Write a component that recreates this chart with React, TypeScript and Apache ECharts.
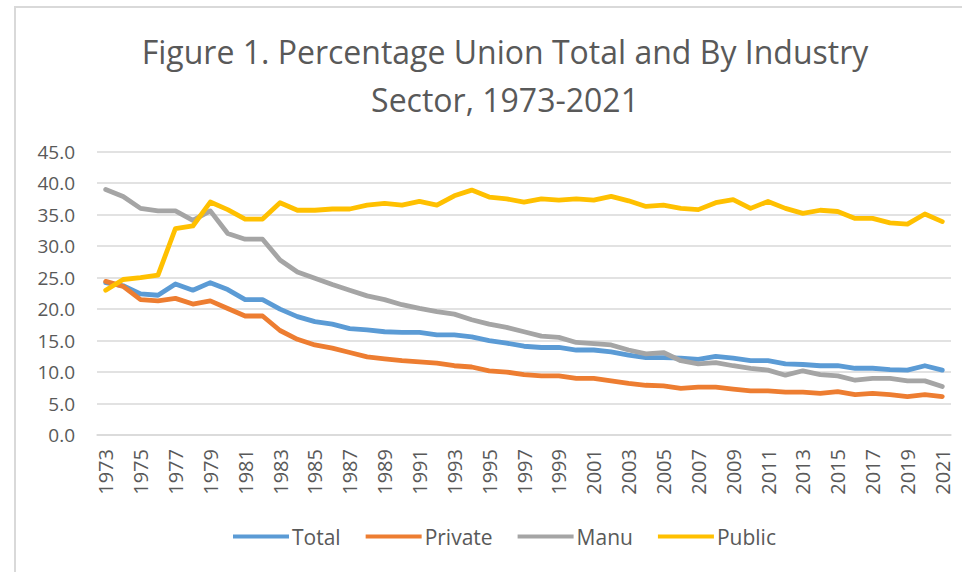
import React, { useEffect, useRef } from "react";
import * as echarts from "echarts";

const years: string[] = [];
for (let y = 1973; y <= 2021; y++) years.push(String(y));

const total = [24.2, 23.7, 22.4, 22.2, 24.0, 23.0, 24.2, 23.1, 21.5, 21.5, 20.0, 18.8, 18.0,
  17.6, 16.9, 16.7, 16.4, 16.3, 16.3, 15.9, 15.9, 15.6, 15.0,
  14.6,
  14.1, 13.9, 13.9, 13.5, 13.5, 13.2, 12.7, 12.3, 12.3, 12.2, 12.0, 12.5,
  12.2, 11.8, 11.8, 11.3, 11.2, 11.0, 11.0, 10.6, 10.6, 10.4, 10.3, 11.0, 10.3];

const privateSector = [24.4, 23.6, 21.5, 21.3, 21.7, 20.8, 21.3, 20.1, 18.9, 18.9, 16.6, 15.2, 14.3,
  13.8, 13.1, 12.4, 12.1, 11.8, 11.6, 11.4, 11.0, 10.8, 10.2,
  10.0,
  9.6, 9.4, 9.4, 9.0, 9.0, 8.6, 8.2, 7.9, 7.8, 7.4, 7.6, 7.6,
  7.3, 7.0, 7.0, 6.8, 6.8, 6.6, 6.9, 6.4, 6.6, 6.4, 6.1, 6.4, 6.1];

const manu = [39.0, 37.9, 36.0, 35.6, 35.6, 34.1, 35.6, 32.0, 31.1, 31.1, 27.8, 25.9, 24.9,
  23.9, 23.0, 22.1, 21.5, 20.7, 20.1, 19.6, 19.2, 18.3, 17.6,
  17.1,
  16.4, 15.7, 15.5, 14.7, 14.5, 14.3, 13.5, 12.9, 13.1, 11.8, 11.3, 11.5,
  11.0, 10.6, 10.3, 9.5, 10.2, 9.6, 9.4, 8.7, 9.0, 9.0, 8.6, 8.6, 7.7];

const publicSector = [23.0, 24.7, 25.0, 25.4, 32.8, 33.2, 37.0, 35.8, 34.3, 34.3, 36.9, 35.7, 35.7,
  35.9, 35.9, 36.5, 36.8, 36.5, 37.1, 36.5, 38.0, 38.9, 37.8,
  37.5,
  37.0, 37.5, 37.3, 37.5, 37.3, 37.9, 37.2, 36.3, 36.5, 36.0, 35.8, 36.9,
  37.4, 36.0, 37.1, 36.0, 35.2, 35.7, 35.5, 34.4, 34.4, 33.7, 33.5, 35.1, 33.9];

const seriesNames = ["Total", "Private", "Manu", "Public"];
const seriesColors = ["#5B9BD5", "#ED7D31", "#A5A5A5", "#FFC000"];
const seriesData = [total, privateSector, manu, publicSector];

const FONT = "'Open Sans', 'Noto Sans', sans-serif";

export default function App() {
  const ref = useRef<HTMLDivElement>(null);
  useEffect(() => {
    if (!ref.current) return;
    const chart = echarts.init(ref.current, null, { renderer: "svg" });
    chart.setOption({
      animation: false,
      backgroundColor: "#ffffff",
      textStyle: { fontFamily: FONT },
      title: {
        text: "Figure 1. Percentage Union Total and By Industry\nSector, 1973-2021",
        left: 500,
        top: 22,
        textAlign: "center",
        textStyle: {
          fontFamily: FONT,
          fontSize: 32,
          fontWeight: "normal",
          color: "#595959",
          lineHeight: 48,
        },
      },
      graphic: [
        {
          type: "rect",
          shape: { x: 15, y: 7, width: 1000, height: 600 },
          style: { fill: "none", stroke: "#d9d9d9", lineWidth: 2 },
          silent: true,
        },
      ],
      legend: {
        data: seriesNames,
        bottom: 20,
        left: 228,
        icon: "rect",
        itemWidth: 56,
        itemHeight: 4,
        itemGap: 25,
        textStyle: { fontFamily: FONT, fontSize: 21, color: "#595959", padding: [0, 0, 0, -2] },
      },
      grid: { left: 97, right: 11, top: 151.7, bottom: 137, containLabel: false },
      xAxis: {
        type: "category",
        data: years,
        boundaryGap: true,
        axisTick: { show: false },
        axisLine: { show: true, lineStyle: { color: "#d9d9d9", width: 1.5 } },
        axisLabel: {
          interval: 1,
          rotate: 90,
          margin: 14,
          fontFamily: FONT,
          fontSize: 20,
          color: "#595959",
        },
      },
      yAxis: {
        type: "value",
        min: 0,
        max: 45,
        interval: 5,
        axisLine: { show: false },
        axisTick: { show: false },
        splitLine: { lineStyle: { color: "#d9d9d9", width: 1.5 } },
        axisLabel: {
          margin: 22,
          fontFamily: FONT,
          fontSize: 19,
          color: "#595959",
          formatter: (v: number) => v.toFixed(1),
        },
      },
      series: seriesNames.map((name, i) => ({
        name,
        type: "line",
        data: seriesData[i],
        showSymbol: false,
        symbol: "none",
        color: seriesColors[i],
        lineStyle: { width: 4.8, color: seriesColors[i], cap: "round", join: "round" },
      })),
    });
    return () => chart.dispose();
  }, []);
  return (
    <div
      ref={ref}
      style={{ position: "fixed", left: 0, top: 0, width: 962, height: 572 }}
    />
  );
}
